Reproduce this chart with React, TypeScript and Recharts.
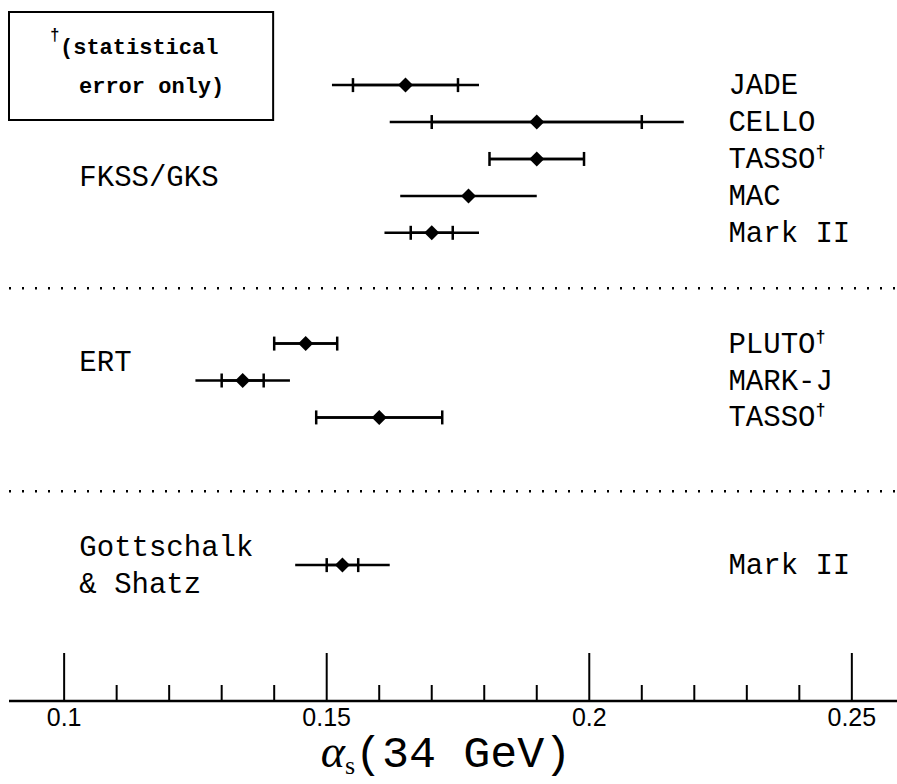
import React from 'react';
import {
  ScatterChart,
  Scatter,
  XAxis,
  YAxis,
  ErrorBar,
  ReferenceLine,
  ReferenceArea,
  ReferenceDot,
} from 'recharts';

// experiments, one per row (rows 5-6 and 10-12 are gaps between methods)
const EXPERIMENTS = ['JADE', 'CELLO', 'TASSO†', 'MAC', 'Mark II', 'PLUTO†', 'MARK-J', 'TASSO†', 'Mark II'];
const ROWS = [0, 1, 2, 3, 4, 7, 8, 9, 13];
const ALPHA_S = [0.165, 0.19, 0.19, 0.177, 0.17, 0.146, 0.134, 0.16, 0.153];
const STAT_ERR = [0.01, 0.02, 0.009, null, 0.004, 0.006, 0.004, 0.012, 0.003];
const TOTAL_ERR = [0.014, 0.028, 0.009, 0.013, 0.009, 0.006, 0.009, 0.012, 0.009];

const GROUP_LABELS = ['FKSS/GKS', 'ERT', 'Gottschalk', '& Shatz'];
const GROUP_ROWS = [2.5, 7.5, 12.5, 13.5];
const SEPARATOR_ROWS = [5.5, 11];

const MAJOR_TICKS = [0.1, 0.15, 0.2, 0.25];
const X_TICKS = [0.1, 0.11, 0.12, 0.13, 0.14, 0.15, 0.16, 0.17, 0.18, 0.19, 0.2, 0.21, 0.22, 0.23, 0.24, 0.25];

const X_DOMAIN = [0.0895, 0.2586];
const Y_DOMAIN = [-1.98, 16.68];
const LABEL_X = 0.2265;
const GROUP_X = 0.1029;
const BOX_X2 = 0.1398;
const BOX_Y2 = 0.945;

const MONO = '"Liberation Mono", "DejaVu Sans Mono", monospace';
const SERIF = '"Liberation Serif", "DejaVu Serif", serif';
const SANS = '"Liberation Sans", Arial, sans-serif';
const LINE_W = 2.5;

const data = EXPERIMENTS.map((name, i) => ({
  name,
  row: ROWS[i],
  alpha: ALPHA_S[i],
  stat: STAT_ERR[i],
  tot: TOTAL_ERR[i],
}));

const isMajor = (v: number) => MAJOR_TICKS.some((m) => Math.abs(m - v) < 1e-9);

const BottomTick = (props: any) => {
  const { x, y, payload } = props;
  const major = isMajor(payload.value);
  return (
    <g>
      <line x1={x} x2={x} y1={y} y2={y - (major ? 48 : 16)} stroke="#000" strokeWidth={2} />
      {major && (
        <text x={x} y={y + 25} textAnchor="middle" fontFamily={SANS} fontSize={25} fill="#000">
          {String(payload.value)}
        </text>
      )}
    </g>
  );
};

const TopTick = (props: any) => {
  const { x, y, payload } = props;
  const major = isMajor(payload.value);
  return <line x1={x} x2={x} y1={y} y2={y + (major ? 23 : 12)} stroke="#000" strokeWidth={2} />;
};

const Diamond = (props: any) => {
  const { cx, cy } = props;
  const r = 7.5;
  return <path d={`M${cx},${cy - r}L${cx + r},${cy}L${cx},${cy + r}L${cx - r},${cy}Z`} fill="#000" />;
};

const RowLabel = (props: any) => {
  const { viewBox, text } = props;
  const dagger = text.endsWith('†');
  return (
    <text x={viewBox.x} y={viewBox.y + 9} fontFamily={MONO} fontSize={29} fill="#000">
      {dagger ? text.slice(0, -1) : text}
      {dagger && (
        <tspan fontSize={17} fontWeight="bold" dy={-11}>
          †
        </tspan>
      )}
    </text>
  );
};

const BoxText = (props: any) => {
  const { viewBox } = props;
  const x = viewBox.x;
  const y = viewBox.y;
  return (
    <g fontFamily={MONO} fontWeight="bold" fill="#000">
      <text x={x + 41} y={y + 28} fontSize={16}>
        †
      </text>
      <text x={x + 51} y={y + 42} fontSize={22}>
        (statistical
      </text>
      <text x={x + 70} y={y + 81} fontSize={22}>
        error only)
      </text>
    </g>
  );
};

const AxisTitle = (props: any) => {
  const { viewBox } = props;
  return (
    <text x={446} y={viewBox.y + 66} textAnchor="middle" fill="#000">
      <tspan fontFamily={SERIF} fontStyle="italic" fontSize={46}>
        α
      </tspan>
      <tspan fontFamily={SERIF} fontSize={26} dy={7}>
        s
      </tspan>
      <tspan fontFamily={MONO} fontSize={45} dy={-7}>
        (34 GeV)
      </tspan>
    </text>
  );
};

export default function App() {
  return (
    <div style={{ position: 'absolute', left: 0, top: 0, width: 897, height: 784, background: '#fff' }}>
      <ScatterChart width={897} height={784} margin={{ top: 12, right: 0, bottom: 0, left: 9 }}>
        <XAxis
          type="number"
          dataKey="alpha"
          xAxisId="bottom"
          orientation="bottom"
          domain={X_DOMAIN}
          allowDataOverflow
          ticks={X_TICKS}
          interval={0}
          tick={<BottomTick />}
          tickLine={false}
          tickSize={0}
          tickMargin={0}
          height={83}
          axisLine={{ stroke: '#000', strokeWidth: LINE_W }}
          label={<AxisTitle />}
        />
        <XAxis
          type="number"
          xAxisId="top"
          orientation="top"
          domain={X_DOMAIN}
          allowDataOverflow
          ticks={X_TICKS}
          interval={0}
          tick={<TopTick />}
          tickLine={false}
          tickSize={0}
          tickMargin={0}
          height={0}
          axisLine={{ stroke: '#000', strokeWidth: LINE_W }}
        />
        <YAxis
          type="number"
          dataKey="row"
          domain={Y_DOMAIN}
          allowDataOverflow
          reversed
          width={0}
          tick={false}
          tickLine={false}
          axisLine={{ stroke: '#000', strokeWidth: LINE_W }}
        />
        <ReferenceArea
          xAxisId="bottom"
          x1={X_DOMAIN[0]}
          x2={BOX_X2}
          y1={Y_DOMAIN[0]}
          y2={BOX_Y2}
          fill="#fff"
          fillOpacity={1}
          stroke="#000"
          strokeWidth={2}
          label={<BoxText />}
        />
        {SEPARATOR_ROWS.map((r) => (
          <ReferenceLine
            key={r}
            xAxisId="bottom"
            y={r}
            stroke="#000"
            strokeWidth={2.5}
            strokeDasharray="2 11"
          />
        ))}
        {GROUP_LABELS.map((g, i) => (
          <ReferenceDot
            key={g}
            xAxisId="bottom"
            x={GROUP_X}
            y={GROUP_ROWS[i]}
            r={0}
            fill="none"
            stroke="none"
            label={<RowLabel text={g} />}
          />
        ))}
        {data.map((d) => (
          <ReferenceDot
            key={d.row}
            xAxisId="bottom"
            x={LABEL_X}
            y={d.row}
            r={0}
            fill="none"
            stroke="none"
            label={<RowLabel text={d.name} />}
          />
        ))}
        <Scatter data={data} xAxisId="bottom" shape={<Diamond />} isAnimationActive={false}>
          <ErrorBar dataKey="tot" direction="x" width={0} stroke="#000" strokeWidth={LINE_W} isAnimationActive={false} />
          <ErrorBar dataKey="stat" direction="x" width={7} stroke="#000" strokeWidth={LINE_W} isAnimationActive={false} />
        </Scatter>
      </ScatterChart>
    </div>
  );
}
